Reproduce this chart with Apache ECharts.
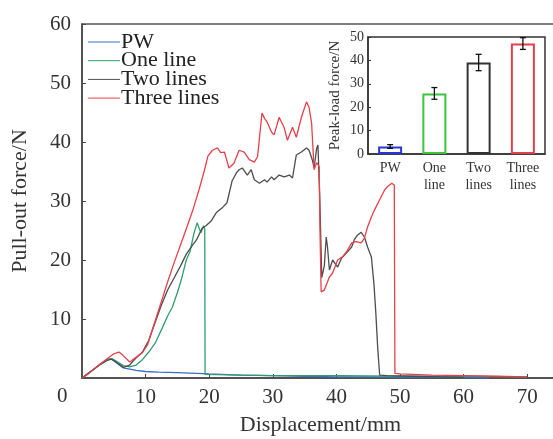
<!DOCTYPE html>
<html><head><meta charset="utf-8">
<script src="https://cdn.jsdelivr.net/npm/echarts@6/dist/echarts.min.js"></script>
<style>html,body{margin:0;padding:0;background:#fff}#c{width:553px;height:439px}</style>
</head><body><div id="c"></div>
<script>
// Main chart data: [displacement mm, force N]
const pwData = [[0,0],[1,0.8],[2,1.6],[3,2.4],[4,3.1],[4.6,3.3],[5.5,2.5],[6.5,1.7],[7.5,1.5],[8.5,1.3],[10,1.1],[12,1.0],[15,0.9],[18,0.8],[20,0.7],[25,0.5],[30,0.4],[35,0.3],[40,0.2],[45,0.2],[50,0.1],[55,0.1],[60,0.05],[64,0]];
const oneLineData = [[0,0],[1,0.8],[2,1.6],[3,2.4],[4,3.1],[4.7,3.3],[5.5,2.8],[6.5,2.1],[7.5,1.9],[8.5,2.2],[9.4,3],[10.5,4.4],[11.5,5.9],[12.5,8.2],[13.5,10.6],[14.2,12],[15,14.5],[15.6,16.6],[16.4,20],[17,21.5],[17.6,24.5],[18.1,26.3],[18.7,24.6],[19.1,25.8],[19.3,25.2],[19.35,0.6],[25,0.5],[30,0.4],[40,0.4],[50,0.3],[60,0.3],[70,0.2]];
const twoLinesData = [[0,0],[1,0.8],[2,1.6],[3,2.4],[4,3.0],[4.6,3.2],[5.5,2.6],[6.5,1.8],[7.5,2.2],[8.5,3.4],[9.5,4.4],[10.5,6.4],[11.5,9.4],[12.5,12.4],[13.5,15],[14.5,17],[15.5,19],[16.4,21],[17.3,22.4],[18,23.4],[18.9,25.4],[19.5,25.8],[20.3,26.6],[21.1,28],[22,28.8],[22.8,29.7],[23.6,33.4],[24.3,34.8],[24.7,35.3],[25.2,35.6],[26,34.4],[26.6,35.3],[27.1,33.6],[27.9,33],[28.7,33.6],[29.1,33.2],[29.8,34.1],[30.2,33.6],[31,34.4],[31.8,34.1],[32.6,34.4],[33.1,33.9],[33.7,37.8],[34.5,38.3],[35.3,39],[35.7,38.6],[36.2,37],[36.5,35.6],[36.9,39],[37.1,39.5],[37.4,30],[37.7,17],[38.1,19],[38.4,23.9],[38.6,22.2],[38.9,18.3],[39.4,20],[40.2,18.8],[40.8,20.3],[41.6,21.2],[42.4,22.2],[42.8,23.4],[43.3,24.2],[43.9,24.7],[44.4,23.9],[44.9,22.2],[45.5,20.5],[45.9,16],[46.2,11],[46.5,5],[46.8,0.5],[48,0.4],[52,0.3],[56,0.2],[60,0.1]];
const threeLinesData = [[0,0],[1,0.7],[2,1.6],[3,2.5],[4,3.3],[5,4.1],[5.8,4.4],[6.5,3.8],[7.5,2.7],[8.5,3.5],[9.5,4.3],[10.3,5.6],[11,8],[11.6,10],[12.5,13],[13.5,16.4],[14.5,19.6],[15.5,22.6],[16.5,25.6],[17.5,28.7],[18.4,31.9],[19.2,35],[19.8,37.6],[20.5,38.6],[21.3,39],[21.8,38.2],[22.4,38.3],[23.1,35.6],[23.9,36.4],[24.7,38.6],[25.5,38.3],[26.3,37],[27.1,36.6],[27.6,37.5],[28.3,44.9],[28.7,44],[29.1,43.4],[29.8,41.7],[30.2,41.2],[31,44.2],[31.8,42.4],[32.3,40.3],[33.1,42.5],[33.7,40.8],[34.5,44.2],[35.3,46.8],[35.7,45.9],[36.1,43.2],[36.5,35.3],[36.9,36.5],[37.3,35.8],[37.4,26],[37.6,14.6],[38.1,14.9],[38.9,17.1],[39.4,17.8],[40.2,20],[40.9,20.5],[41.6,21.4],[42.4,22.9],[43.1,23.1],[43.9,22.9],[44.4,23.7],[44.9,25.6],[45.5,27.3],[46,28.5],[46.8,30.2],[47.6,31.9],[48,32.4],[48.7,33],[49.1,32.7],[49.2,0.8],[50,0.7],[55,0.5],[60,0.4],[65,0.3],[70,0.2]];
const seriesNames = ['PW','One line','Two lines','Three lines'];
// Inset data
const insetCategories = ['PW','One\nline','Two\nlines','Three\nlines'];
const peakMeans = [3.2, 25.9, 39.1, 47.2];
const peakErrors = [0.8, 2.5, 3.5, 2.5];
const xTicks = [0,10,20,30,40,50,60,70];
const yTicks = [0,10,20,30,40,50,60];

const colors = ['#3a6cc0','#2e9e70','#4d4d4d','#e8404a'];
const insetColors = ['#2a35d8','#3cc43c','#333333','#e0404a'];
const serif = 'Liberation Serif';

const chart = echarts.init(document.getElementById('c'), null, {renderer:'canvas'});
const mainData = [pwData, oneLineData, twoLinesData, threeLinesData];

const option = {
  animation: false,
  backgroundColor: '#fff',
  textStyle: {fontFamily: serif},
  legend: {
    orient: 'vertical', left: 83, top: 26, itemGap: -3.3, itemWidth: 32, itemHeight: 10, padding: 5,
    data: seriesNames,
    textStyle: {fontFamily: serif, fontSize: 22, color: '#222', padding: [0,0,0,-4]},
    icon: 'path://M0,4.5 L32,4.5 L32,5.5 L0,5.5 Z'
  },
  grid: [
    {left: 82, right: -6, top: 24, bottom: 61, show: true, borderColor: '#555', borderWidth: 1.5, outerBoundsMode: 'none', containLabel: false},
    {left: 368, right: 8, top: 37, bottom: 285, show: true, borderColor: '#333', borderWidth: 1.5, backgroundColor: '#fff', z: 10, outerBoundsMode: 'none', containLabel: false}
  ],
  xAxis: [
    {type: 'value', gridIndex: 0, min: 0, max: 75, interval: 10,
     axisLine: {lineStyle: {color: '#444', width: 1.5}},
     axisTick: {inside: true, length: 4, lineStyle: {color: '#444'}},
     splitLine: {show: false},
     axisLabel: {showMinLabel: false, showMaxLabel: false, fontSize: 21, color: '#333', margin: 9, fontFamily: serif,
       formatter: v => (xTicks.indexOf(v) >= 0 ? String(v) : '')},
     name: 'Displacement/mm', nameLocation: 'middle', nameGap: 36,
     nameTextStyle: {fontSize: 22, color: '#333', fontFamily: serif}},
    {type: 'category', gridIndex: 1, data: insetCategories,
     axisLine: {lineStyle: {color: '#333', width: 1.5}},
     axisTick: {inside: true, alignWithLabel: true, length: 3, lineStyle: {color: '#333'}},
     axisLabel: {fontSize: 14, color: '#333', margin: 6, lineHeight: 17, fontFamily: serif}, z: 11}
  ],
  yAxis: [
    {type: 'value', gridIndex: 0, min: 0, max: 60, interval: 10,
     axisLine: {show: true, lineStyle: {color: '#444', width: 1.5}},
     axisTick: {show: true, inside: true, length: 4, lineStyle: {color: '#444'}},
     splitLine: {show: false},
     axisLabel: {showMinLabel: false, fontSize: 21, color: '#333', margin: 11, fontFamily: serif,
       formatter: v => (yTicks.indexOf(v) >= 0 ? String(v) : '')},
     name: 'Pull-out force/N', nameLocation: 'middle', nameGap: 51,
     nameTextStyle: {fontSize: 22, color: '#333', fontFamily: serif}},
    {type: 'value', gridIndex: 1, min: 0, max: 50, interval: 10,
     axisLine: {show: true, lineStyle: {color: '#333', width: 1.5}},
     axisTick: {show: true, inside: true, length: 3, lineStyle: {color: '#333'}},
     splitLine: {show: false},
     axisLabel: {fontSize: 14, color: '#333', margin: 4, fontFamily: serif},
     name: 'Peak-load force/N', nameLocation: 'middle', nameGap: 25,
     nameTextStyle: {fontSize: 15, color: '#333', fontFamily: serif}, z: 11}
  ],
  series: [
    ...mainData.map((d, i) => ({
      type: 'line', name: seriesNames[i], data: d, xAxisIndex: 0, yAxisIndex: 0,
      showSymbol: false, symbol: 'none', lineStyle: {color: colors[i], width: 1.3},
      itemStyle: {color: colors[i]}, z: 2 + i
    })),
    {type: 'bar', xAxisIndex: 1, yAxisIndex: 1, barWidth: 24, z: 12,
     data: peakMeans.map((v, i) => ({value: v, itemStyle: {color: 'rgba(255,255,255,0)', borderColor: insetColors[i], borderWidth: 2}}))},
    {type: 'custom', xAxisIndex: 1, yAxisIndex: 1, z: 13,
     data: peakMeans.map((v, i) => [i, v - peakErrors[i], v + peakErrors[i]]),
     renderItem: (params, api) => {
       const lo = api.coord([api.value(0), api.value(1)]);
       const hi = api.coord([api.value(0), api.value(2)]);
       const w = 3;
       const st = {stroke: '#111', lineWidth: 1.3};
       return {type: 'group', children: [
         {type: 'line', shape: {x1: lo[0], y1: lo[1], x2: hi[0], y2: hi[1]}, style: st},
         {type: 'line', shape: {x1: lo[0]-w, y1: lo[1], x2: lo[0]+w, y2: lo[1]}, style: st},
         {type: 'line', shape: {x1: hi[0]-w, y1: hi[1], x2: hi[0]+w, y2: hi[1]}, style: st}
       ]};
     }}
  ],
  graphic: [
    {type: 'text', left: 57, top: 386, style: {text: '0', fontSize: 21, fill: '#333', fontFamily: serif}}
  ]
};
chart.setOption(option);
</script>
</body></html>
